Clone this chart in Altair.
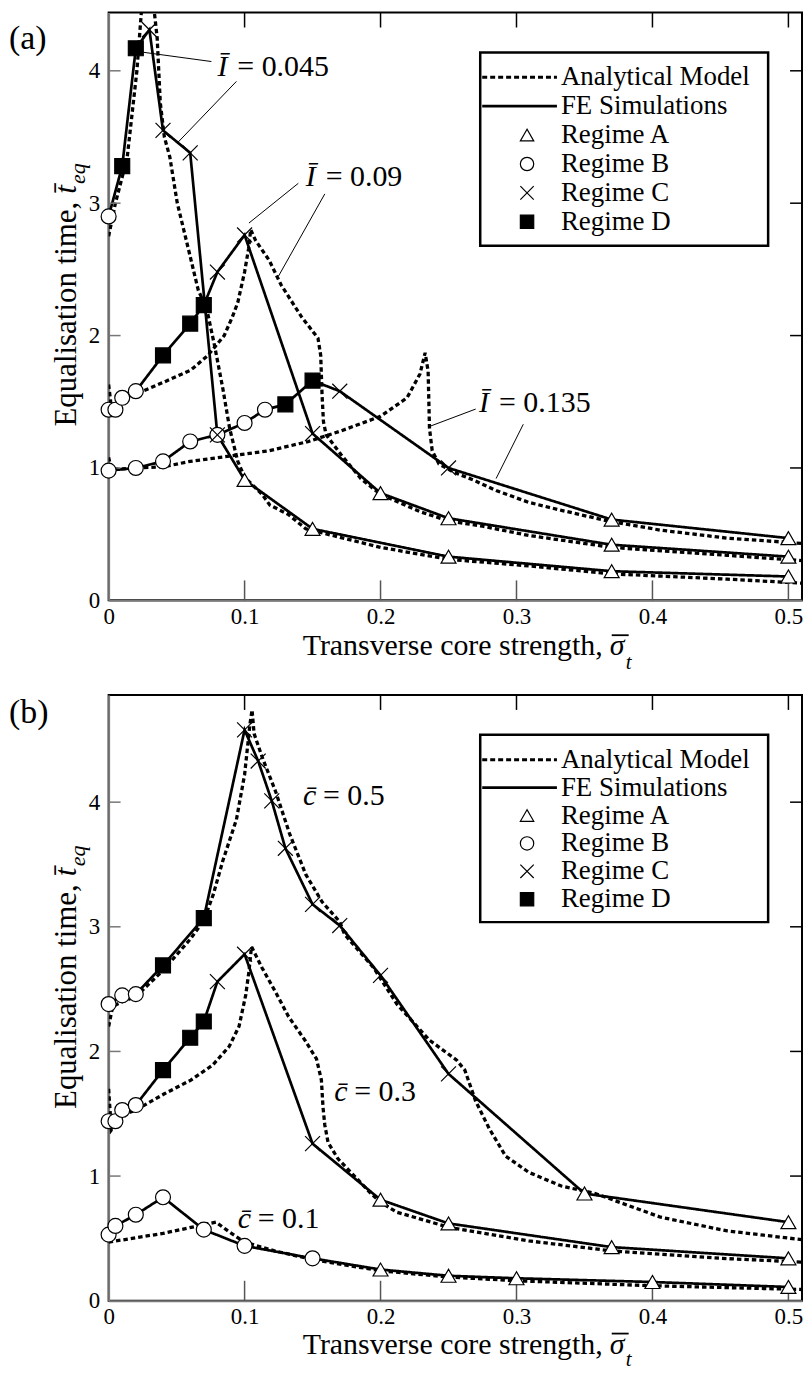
import altair as alt
import pandas as pd

FONT = "Liberation Serif"
W = 696
XMAX = 0.51
X_TICKS = [0, 0.1, 0.2, 0.3, 0.4, 0.5]
Y_TICKS = [0, 1, 2, 3, 4]
REGIMES = ["A", "B", "C", "D"]
XPATH = "M-1,-1L1,1M-1,1L1,-1"
LEGEND_LABELS = ["Analytical Model", "FE Simulations", "Regime A", "Regime B", "Regime C", "Regime D"]

# ---------------- panel (a): FE simulations ----------------
a_fe1_x = [0, 0.01, 0.02, 0.03, 0.04, 0.06, 0.08, 0.10, 0.15, 0.25, 0.37, 0.50]
a_fe1_y = [2.90, 3.28, 4.17, 4.31, 3.55, 3.38, 1.25, 0.91, 0.54, 0.33, 0.22, 0.18]
a_fe1_r = ["B", "D", "D", "C", "C", "C", "C", "A", "A", "A", "A", "A"]

a_fe2_x = [0, 0.005, 0.01, 0.02, 0.04, 0.06, 0.07, 0.08, 0.10, 0.15, 0.20, 0.25, 0.37, 0.50]
a_fe2_y = [1.44, 1.44, 1.53, 1.58, 1.85, 2.09, 2.23, 2.48, 2.76, 1.26, 0.81, 0.62, 0.42, 0.33]
a_fe2_r = ["B", "B", "B", "B", "D", "D", "D", "C", "C", "C", "A", "A", "A", "A"]

a_fe3_x = [0, 0.02, 0.04, 0.06, 0.08, 0.10, 0.115, 0.13, 0.15, 0.17, 0.25, 0.37, 0.50]
a_fe3_y = [0.98, 1.00, 1.05, 1.20, 1.25, 1.34, 1.44, 1.48, 1.66, 1.58, 1.00, 0.61, 0.47]
a_fe3_r = ["B", "B", "B", "B", "B", "B", "B", "D", "D", "C", "C", "A", "A"]

# ---------------- panel (a): analytical model ----------------
a_an1_x = [0, 0.005, 0.0136, 0.0208, 0.0245, 0.027, 0.030, 0.033, 0.0357, 0.038, 0.041, 0.045,
           0.0505, 0.059, 0.066, 0.072, 0.078, 0.084, 0.089, 0.095, 0.100, 0.113, 0.1185, 0.132,
           0.145, 0.200, 0.250, 0.309, 0.370, 0.455, 0.510]
a_an1_y = [2.75, 3.00, 3.34, 4.00, 4.50, 4.95, 5.10, 4.50, 4.25, 3.76, 3.50, 3.35,
           3.00, 2.64, 2.34, 2.21, 1.92, 1.60, 1.30, 1.05, 0.93, 0.80, 0.72, 0.65,
           0.54, 0.40, 0.31, 0.26, 0.20, 0.16, 0.13]

a_an2_x = [0, 0.002, 0.0107, 0.0204, 0.041, 0.0605, 0.073, 0.085, 0.091, 0.095, 0.100, 0.103,
           0.1045, 0.108, 0.118, 0.127, 0.142, 0.154, 0.156, 0.157, 0.158, 0.160, 0.171, 0.1855,
           0.200, 0.229, 0.250, 0.275, 0.309, 0.370, 0.455, 0.510]
a_an2_y = [1.63, 1.46, 1.52, 1.56, 1.65, 1.74, 1.85, 2.00, 2.14, 2.25, 2.48, 2.66,
           2.80, 2.72, 2.57, 2.38, 2.14, 1.98, 1.85, 1.55, 1.35, 1.25, 1.10, 0.92,
           0.80, 0.67, 0.60, 0.56, 0.49, 0.40, 0.34, 0.30]

a_an3_x = [0, 0.002, 0.041, 0.060, 0.089, 0.118, 0.147, 0.171, 0.200, 0.2195, 0.229, 0.2328,
           0.235, 0.236, 0.238, 0.243, 0.2534, 0.268, 0.285, 0.309, 0.333, 0.367, 0.406, 0.455, 0.510]
a_an3_y = [1.08, 0.99, 1.01, 1.05, 1.09, 1.13, 1.20, 1.28, 1.39, 1.53, 1.71, 1.87,
           1.73, 1.30, 1.13, 1.03, 0.97, 0.91, 0.83, 0.74, 0.68, 0.60, 0.53, 0.47, 0.43]

# panel (a) annotations
a_ann_x = [0.080, 0.145, 0.2725]
a_ann_y = [3.96, 3.13, 1.42]
a_ann_var = ["Ī", "Ī", "Ī"]
a_ann_val = ["= 0.045", "= 0.09", "= 0.135"]
a_lead_x1 = [0.0255, 0.094, 0.1395, 0.159, 0.270, 0.305]
a_lead_y1 = [4.14, 3.92, 3.15, 3.07, 1.445, 1.33]
a_lead_x2 = [0.0756, 0.051, 0.1032, 0.125, 0.2364, 0.285]
a_lead_y2 = [4.07, 3.46, 2.85, 2.45, 1.315, 0.92]

# ---------------- panel (b): FE simulations ----------------
b_fe1_x = [0, 0.01, 0.02, 0.04, 0.07, 0.10, 0.11, 0.12, 0.13, 0.15, 0.17, 0.20, 0.25, 0.35, 0.50]
b_fe1_y = [2.38, 2.45, 2.46, 2.69, 3.07, 4.58, 4.33, 4.01, 3.63, 3.18, 3.01, 2.61, 1.82, 0.86, 0.63]
b_fe1_r = ["B", "B", "B", "D", "D", "C", "C", "C", "C", "C", "C", "C", "C", "A", "A"]

b_fe2_x = [0, 0.005, 0.01, 0.02, 0.04, 0.06, 0.07, 0.08, 0.10, 0.15, 0.20, 0.25, 0.37, 0.50]
b_fe2_y = [1.44, 1.44, 1.53, 1.57, 1.85, 2.11, 2.24, 2.56, 2.78, 1.26, 0.81, 0.62, 0.43, 0.34]
b_fe2_r = ["B", "B", "B", "B", "D", "D", "D", "C", "C", "C", "A", "A", "A", "A"]

b_fe3_x = [0, 0.005, 0.02, 0.04, 0.07, 0.10, 0.15, 0.20, 0.25, 0.30, 0.40, 0.50]
b_fe3_y = [0.53, 0.60, 0.69, 0.83, 0.57, 0.44, 0.34, 0.25, 0.20, 0.18, 0.15, 0.11]
b_fe3_r = ["B", "B", "B", "B", "B", "B", "B", "A", "A", "A", "A", "A"]

# ---------------- panel (b): analytical model ----------------
b_an1_x = [0, 0.003, 0.01, 0.02, 0.04, 0.06, 0.07, 0.077, 0.084, 0.094, 0.100, 0.104, 0.1055,
           0.107, 0.113, 0.123, 0.133, 0.145, 0.157, 0.170, 0.1735, 0.195, 0.212, 0.236, 0.256,
           0.262, 0.270, 0.280, 0.292, 0.309, 0.333, 0.358, 0.406, 0.455, 0.510]
b_an1_y = [2.20, 2.36, 2.40, 2.44, 2.65, 2.90, 3.05, 3.26, 3.53, 3.86, 4.22, 4.63, 4.74,
           4.55, 4.36, 4.08, 3.75, 3.42, 3.20, 3.04, 2.94, 2.67, 2.38, 2.09, 1.93,
           1.85, 1.60, 1.38, 1.16, 1.03, 0.92, 0.86, 0.67, 0.56, 0.49]

b_an2_x = [0, 0.002, 0.01, 0.02, 0.041, 0.0605, 0.0765, 0.0887, 0.0959, 0.1008, 0.1032, 0.1051,
           0.1129, 0.1226, 0.1323, 0.1444, 0.1529, 0.1565, 0.1577, 0.159, 0.1614, 0.1686, 0.1808,
           0.193, 0.200, 0.212, 0.250, 0.309, 0.370, 0.450, 0.510]
b_an2_y = [1.70, 1.37, 1.49, 1.53, 1.66, 1.77, 1.89, 2.04, 2.20, 2.45, 2.64, 2.84,
           2.67, 2.48, 2.28, 2.09, 1.94, 1.77, 1.55, 1.41, 1.27, 1.14, 1.00,
           0.86, 0.79, 0.71, 0.59, 0.48, 0.40, 0.34, 0.31]

b_an3_x = [0, 0.04, 0.07, 0.079, 0.089, 0.10, 0.122, 0.15, 0.20, 0.25, 0.30, 0.40, 0.51]
b_an3_y = [0.47, 0.54, 0.61, 0.63, 0.55, 0.47, 0.40, 0.33, 0.24, 0.19, 0.16, 0.12, 0.09]

# panel (b) annotations
b_ann_x = [0.143, 0.166, 0.095]
b_ann_y = [3.98, 1.60, 0.58]
b_ann_var = ["c\u0304", "c\u0304", "c\u0304"]
b_ann_val = ["= 0.5", "= 0.3", "= 0.1"]

ONE = pd.DataFrame({"k": [0]})


def build(fe, an):
    rl, rp = [], []
    for name, (xs, ys) in an.items():
        for i, (x, y) in enumerate(zip(xs, ys)):
            rl.append({"x": x, "y": y, "series": "AN" + name, "kind": "Analytical Model", "ord": i})
    for name, (xs, ys, rs) in fe.items():
        for i, (x, y, r) in enumerate(zip(xs, ys, rs)):
            rl.append({"x": x, "y": y, "series": "FE" + name, "kind": "FE Simulations", "ord": i})
            rp.append({"x": x, "y": y, "reg": r})
    pts = pd.DataFrame(rp)
    pts["z"] = pts["reg"].map({"A": 0, "B": 1, "D": 2, "C": 3})
    return pd.DataFrame(rl), pts


def txt(text, x, y, size, **kw):
    return alt.Chart(ONE).mark_text(text=text, font=FONT, fontSize=size, color="black", **kw).encode(
        x=alt.value(x), y=alt.value(y))


def panel(lines, pts, ymax, H, ann, leads, tag, tag_y, leg_top, leg_dy, tb, sb):
    xs = alt.Scale(domain=[0, XMAX], nice=False, zero=False)
    ys = alt.Scale(domain=[0, ymax], nice=False, zero=False)
    xaxis = alt.Axis(values=X_TICKS, format=".1~f", title=None, ticks=False, grid=False,
                     labelFlush=False, labelPadding=5, domainColor="#7a7a7a", domainWidth=2,
                     labelFont=FONT, labelFontSize=23, labelColor="black")
    yaxis = alt.Axis(values=Y_TICKS, format="d", title=None, ticks=False, grid=False,
                     labelFlush=False, labelPadding=9, domainColor="#7a7a7a", domainWidth=2,
                     labelFont=FONT, labelFontSize=23, labelColor="black")

    def X(f):
        return alt.X(f, scale=xs, axis=xaxis)

    def Y(f):
        return alt.Y(f, scale=ys, axis=yaxis)

    layers = []
    layers.append(alt.Chart(lines).mark_line(color="black", clip=True).encode(
        x=X("x:Q"), y=Y("y:Q"),
        detail="series:N",
        order="ord:Q",
        strokeDash=alt.StrokeDash("kind:N", scale=alt.Scale(domain=LEGEND_LABELS[:2], range=[[4.5, 3], [1, 0]]), legend=None),
        strokeWidth=alt.StrokeWidth("kind:N", scale=alt.Scale(domain=LEGEND_LABELS[:2], range=[3.3, 2.7]), legend=None),
    ))
    # inward ticks
    xt = pd.DataFrame({"x": X_TICKS[1:]})
    yt = pd.DataFrame({"y": Y_TICKS[1:]})
    layers.append(alt.Chart(xt).mark_rule(color="#555", strokeWidth=1.5).encode(
        x=X("x:Q"), y=alt.value(H), y2=alt.value(H - 20)))
    layers.append(alt.Chart(xt).mark_rule(color="black", strokeWidth=1.5).encode(
        x=X("x:Q"), y=alt.value(0), y2=alt.value(15)))
    layers.append(alt.Chart(yt).mark_rule(color="#777", strokeWidth=1.5).encode(
        y=Y("y:Q"), x=alt.value(0), x2=alt.value(12)))
    layers.append(alt.Chart(yt).mark_rule(color="black", strokeWidth=1.5).encode(
        y=Y("y:Q"), x=alt.value(W), x2=alt.value(W - 12)))

    # markers
    layers.append(alt.Chart(pts).mark_point(stroke="black", strokeWidth=1.2, opacity=1, fillOpacity=1, size=225).encode(
        x=X("x:Q"), y=Y("y:Q"),
        shape=alt.Shape("reg:N", scale=alt.Scale(domain=REGIMES, range=["triangle-up", "circle", XPATH, "square"]), legend=None),
        fill=alt.Fill("reg:N", scale=alt.Scale(domain=REGIMES, range=["white", "white", "white", "black"]), legend=None),
        order=alt.Order("z:Q"),
    ))

    # leader lines
    if leads is not None:
        layers.append(alt.Chart(leads).mark_rule(color="black", strokeWidth=1).encode(
            x=X("x:Q"), y=Y("y:Q"), x2="x2:Q", y2="y2:Q"))
    # annotations
    layers.append(alt.Chart(ann).mark_text(align="left", baseline="alphabetic", font=FONT, fontSize=30,
                                           fontStyle="italic", color="black").encode(
        x=X("x:Q"), y=Y("y:Q"), text="var:N"))
    layers.append(alt.Chart(ann).mark_text(align="left", baseline="alphabetic", font=FONT, fontSize=30,
                                           dx=20, color="black").encode(
        x=X("x:Q"), y=Y("y:Q"), text="val:N"))

    # legend (drawn inside the plot)
    bx0, bx1 = 373, 662
    layers.append(alt.Chart(ONE).mark_rect(fill="white", stroke="black", strokeWidth=2.5).encode(
        x=alt.value(bx0), x2=alt.value(bx1), y=alt.value(leg_top), y2=alt.value(leg_top + 6 * leg_dy + 20)))
    rows = [leg_top + 25 + i * leg_dy for i in range(6)]
    layers.append(alt.Chart(ONE).mark_rule(color="black", strokeWidth=3, strokeDash=[5, 3]).encode(
        x=alt.value(375), x2=alt.value(450), y=alt.value(rows[0])))
    layers.append(alt.Chart(ONE).mark_rule(color="black", strokeWidth=2.7).encode(
        x=alt.value(375), x2=alt.value(450), y=alt.value(rows[1])))
    shapes = ["triangle-up", "circle", XPATH, "square"]
    fills = ["white", "white", "white", "black"]
    for i in range(4):
        layers.append(alt.Chart(ONE).mark_point(shape=shapes[i], fill=fills[i], stroke="black", strokeWidth=1.2,
                                                opacity=1, fillOpacity=1, size=180).encode(
            x=alt.value(420), y=alt.value(rows[i + 2])))
    for i, lab in enumerate(LEGEND_LABELS):
        layers.append(txt(lab, 454, rows[i], 27, align="left", baseline="middle"))

    # axis titles (with overbars and subscripts)
    layers.append(txt("Transverse core strength,", 496, H + tb, 30, align="right", baseline="alphabetic"))
    layers.append(txt("\u03c3", 503, H + tb, 30, align="left", baseline="alphabetic", fontStyle="italic"))
    layers.append(alt.Chart(ONE).mark_rule(color="black", strokeWidth=1.8).encode(
        x=alt.value(505), x2=alt.value(522), y=alt.value(H + tb - 20)))
    layers.append(txt("t", 519, H + sb, 21, align="left", baseline="alphabetic", fontStyle="italic"))
    layers.append(txt("Equalisation time,", -33, 190, 31, align="right", baseline="alphabetic", angle=270))
    layers.append(txt("t\u0304", -33, 182, 31, align="left", baseline="alphabetic", angle=270, fontStyle="italic"))
    layers.append(txt("eq", -24, 172, 22, align="left", baseline="alphabetic", angle=270, fontStyle="italic"))
    # panel tag
    layers.append(txt(tag, -100, tag_y, 34, align="left", baseline="middle"))

    return alt.layer(*layers).properties(width=W, height=H)


a_lines, a_pts = build(
    {"1": (a_fe1_x, a_fe1_y, a_fe1_r), "2": (a_fe2_x, a_fe2_y, a_fe2_r), "3": (a_fe3_x, a_fe3_y, a_fe3_r)},
    {"1": (a_an1_x, a_an1_y), "2": (a_an2_x, a_an2_y), "3": (a_an3_x, a_an3_y)})
b_lines, b_pts = build(
    {"1": (b_fe1_x, b_fe1_y, b_fe1_r), "2": (b_fe2_x, b_fe2_y, b_fe2_r), "3": (b_fe3_x, b_fe3_y, b_fe3_r)},
    {"1": (b_an1_x, b_an1_y), "2": (b_an2_x, b_an2_y), "3": (b_an3_x, b_an3_y)})

a_ann = pd.DataFrame({"x": a_ann_x, "y": a_ann_y, "var": a_ann_var, "val": a_ann_val})
a_leads = pd.DataFrame({"x": a_lead_x1, "y": a_lead_y1, "x2": a_lead_x2, "y2": a_lead_y2})
b_ann = pd.DataFrame({"x": b_ann_x, "y": b_ann_y, "var": b_ann_var, "val": b_ann_val})

pa = panel(a_lines, a_pts, 4.44, 590, a_ann, a_leads, "(a)", 27, 40, 29, 55, 69)
pb = panel(b_lines, b_pts, 4.86, 608, b_ann, None, "(b)", 18, 40, 28, 53, 66)

chart = alt.vconcat(pa, pb, spacing=19).properties(padding=0).configure_view(
    stroke="black", strokeWidth=2
)

chart.save("out.html", embed_options={"renderer": "svg", "actions": False})
